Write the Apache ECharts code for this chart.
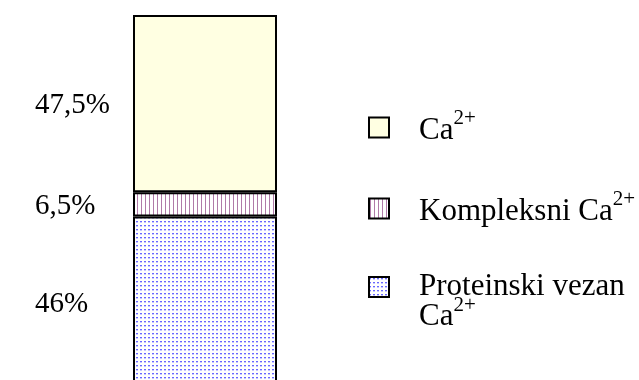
<!DOCTYPE html>
<html>
<head>
<meta charset="utf-8">
<script src="https://cdn.jsdelivr.net/npm/echarts@6/dist/echarts.min.js"></script>
<style>
  html, body { margin: 0; padding: 0; background: #fff; }
  #chart { width: 639px; height: 380px; }
</style>
</head>
<body>
<div id="chart"></div>
<script>
const categories = ['Ca'];
const seriesNames = ['Proteinski vezan Ca2+', 'Kompleksni Ca2+', 'Ca2+'];
const seriesValues = [46, 6.5, 47.5];
const legendOrder = ['Ca2+', 'Kompleksni Ca2+', 'Proteinski vezan Ca2+'];

const FONT = 'Liberation Serif';

function makePattern(w, h, draw) {
  const c = document.createElement('canvas');
  c.width = w;
  c.height = h;
  const ctx = c.getContext('2d');
  draw(ctx);
  return { image: c, repeat: 'repeat' };
}

const dotted = makePattern(4, 4, ctx => {
  ctx.fillStyle = '#fff';
  ctx.fillRect(0, 0, 4, 4);
  ctx.fillStyle = '#6868ff';
  ctx.fillRect(0, 1, 2, 1);
  ctx.fillStyle = '#c8c8ff';
  ctx.fillRect(0, 2, 2, 1);
});
const striped = makePattern(4, 4, ctx => {
  ctx.fillStyle = '#fff';
  ctx.fillRect(0, 0, 4, 4);
  ctx.fillStyle = '#b07aa8';
  ctx.fillRect(1, 0, 1, 4);
});
const fills = [dotted, striped, '#ffffe2'];

function richName(name, wrap) {
  let s = name.replace('2+', '}{sup|2+}');
  s = '{b|' + s;
  if (wrap) s = s.replace('vezan ', 'vezan}\n{b|');
  return s.replace('{b|}', '');
}

const rich = {
  b: { fontFamily: FONT, fontSize: 31, lineHeight: 30, color: '#000' },
  sup: { fontFamily: FONT, fontSize: 21, lineHeight: 30, color: '#000', padding: [0, 0, 24, 0] }
};

const chart = echarts.init(document.getElementById('chart'));

// legend blocks placed one by one so the wrapped third label sits like the original
const legendTops = [108, 189, 242];
const legends = legendOrder.map((name, i) => ({
  data: [name],
  orient: 'vertical',
  left: 368,
  top: legendTops[i],
  padding: 0,
  itemWidth: 20,
  itemHeight: 20,
  icon: 'rect',
  selectedMode: false,
  formatter: n => richName(n, i === 2),
  textStyle: {
    fontFamily: FONT,
    fontSize: 31,
    lineHeight: 30,
    color: '#000',
    padding: i === 2 ? [30, 0, 0, 25] : [6, 0, 0, 25],
    rich: rich
  }
}));

chart.setOption({
  animation: false,
  legend: legends,
  grid: {
    left: 133,
    width: 144,
    top: 15,
    height: 373,
    outerBoundsMode: 'none'
  },
  xAxis: {
    type: 'category',
    data: categories,
    show: false
  },
  yAxis: {
    type: 'value',
    min: 0,
    max: 100,
    show: false
  },
  series: seriesNames.map((name, i) => ({
    name: name,
    type: 'bar',
    stack: 'total',
    barWidth: '100%',
    data: [seriesValues[i]],
    itemStyle: {
      color: fills[i],
      borderColor: '#000',
      borderWidth: 2
    },
    label: {
      show: true,
      position: 'insideLeft',
      distance: 0,
      offset: [-98, 2],
      fontFamily: FONT,
      fontSize: 29,
      color: '#000',
      formatter: p => String(p.value).replace('.', ',') + '%'
    }
  }))
});
</script>
</body>
</html>
